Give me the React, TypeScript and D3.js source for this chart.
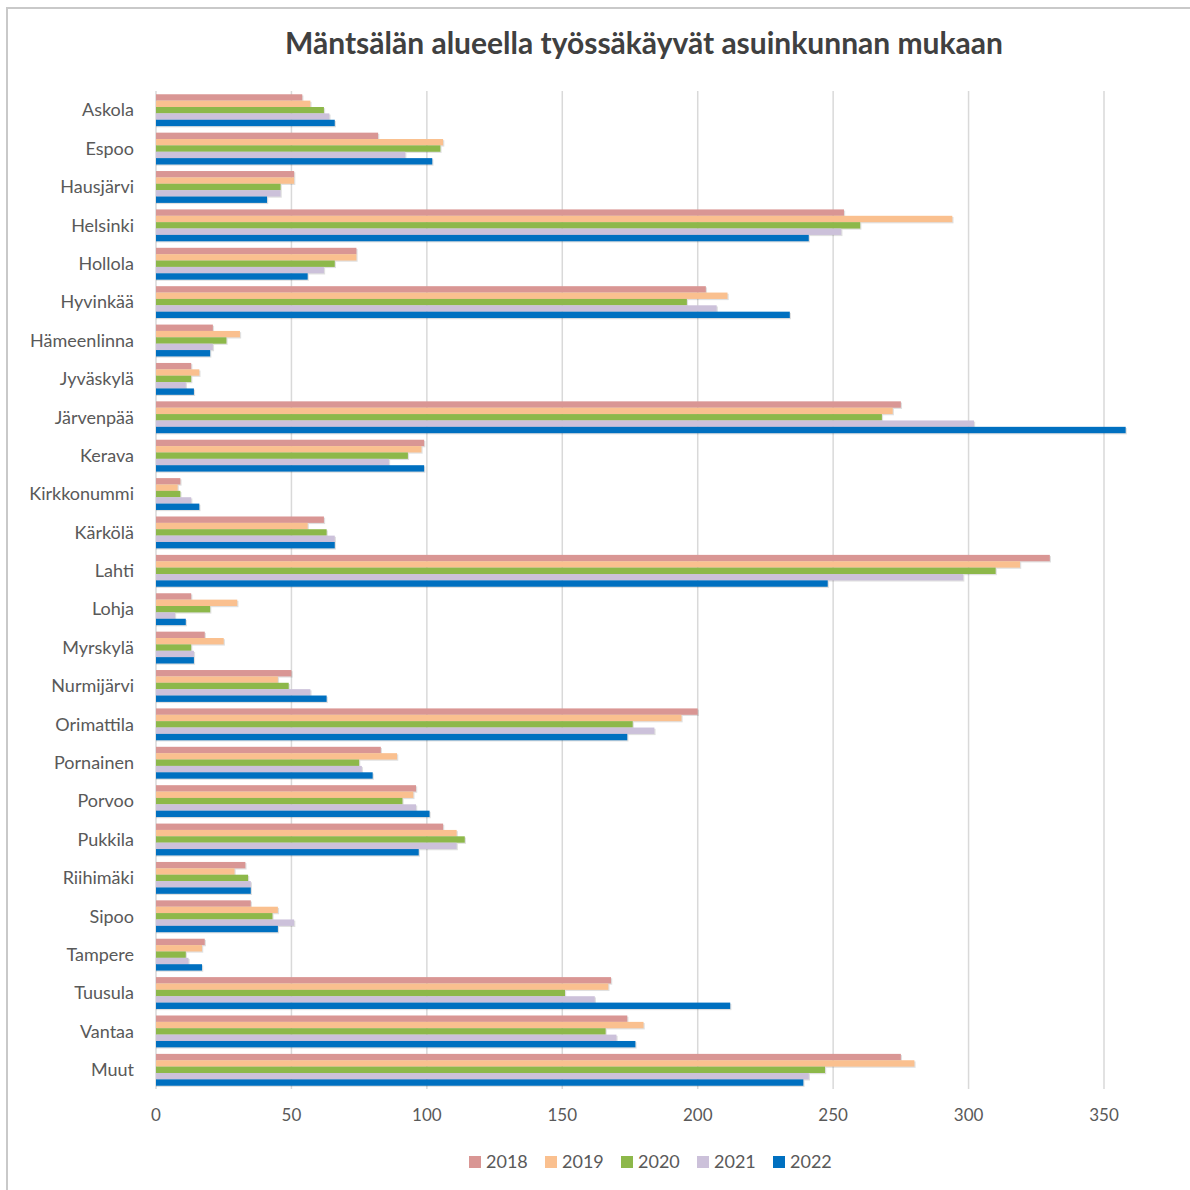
import { useEffect, useRef } from "react";
import * as d3 from "d3";

const title = "Mäntsälän alueella työssäkäyvät asuinkunnan mukaan";

const categories = [
  "Askola", "Espoo", "Hausjärvi", "Helsinki", "Hollola", "Hyvinkää", "Hämeenlinna",
  "Jyväskylä", "Järvenpää", "Kerava", "Kirkkonummi", "Kärkölä", "Lahti", "Lohja",
  "Myrskylä", "Nurmijärvi", "Orimattila", "Pornainen", "Porvoo", "Pukkila",
  "Riihimäki", "Sipoo", "Tampere", "Tuusula", "Vantaa", "Muut",
];

const years = ["2018", "2019", "2020", "2021", "2022"];
const colors = ["#D99694", "#FAC08F", "#8DB84A", "#CCC1DA", "#0070C0"];

const v2018 = [54, 82, 51, 254, 74, 203, 21, 13, 275, 99, 9, 62, 330, 13, 18, 50, 200, 83, 96, 106, 33, 35, 18, 168, 174, 275];
const v2019 = [57, 106, 51, 294, 74, 211, 31, 16, 272, 98, 8, 56, 319, 30, 25, 45, 194, 89, 95, 111, 29, 45, 17, 167, 180, 280];
const v2020 = [62, 105, 46, 260, 66, 196, 26, 13, 268, 93, 9, 63, 310, 20, 13, 49, 176, 75, 91, 114, 34, 43, 11, 151, 166, 247];
const v2021 = [64, 92, 46, 253, 62, 207, 21, 11, 302, 86, 13, 66, 298, 7, 14, 57, 184, 76, 96, 111, 35, 51, 12, 162, 170, 241];
const v2022 = [66, 102, 41, 241, 56, 234, 20, 14, 358, 99, 16, 66, 248, 11, 14, 63, 174, 80, 101, 97, 35, 45, 17, 212, 177, 239];

const series = [v2018, v2019, v2020, v2021, v2022];
const xTicks = [0, 50, 100, 150, 200, 250, 300, 350];

const App = () => {
  const svgRef = useRef<SVGSVGElement>(null);
  const width = 1190;
  const height = 1190;
  const margin = { top: 91, left: 156, bottom: 101, right: 86 };
  const font = "Lato, 'Open Sans', sans-serif";

  useEffect(() => {
    const svg = d3.select(svgRef.current);
    svg.selectAll("*").remove();

    // frame (top + left edges visible in the screenshot)
    svg.append("rect")
      .attr("x", 7).attr("y", 8)
      .attr("width", 1200).attr("height", 1200)
      .attr("fill", "#fff").attr("stroke", "#c9c9c9").attr("stroke-width", 2);

    const x = d3.scaleLinear().domain([0, 350]).range([margin.left, width - margin.right]);
    const y = d3.scaleBand().domain(categories).range([margin.top, height - margin.bottom]).paddingInner(0.17).paddingOuter(0.085);
    const yy = d3.scaleBand().domain(years).range([0, y.bandwidth()]);

    // gridlines
    svg.append("g")
      .selectAll("line")
      .data(xTicks)
      .join("line")
      .attr("x1", (d) => x(d)).attr("x2", (d) => x(d))
      .attr("y1", margin.top).attr("y2", height - margin.bottom)
      .attr("stroke", "#d9d9d9").attr("stroke-width", 1.5);

    // bars (light shadow like the excel export)
    series.forEach((vals, si) => {
      const g = svg.append("g");
      g.selectAll("rect.sh")
        .data(vals)
        .join("rect")
        .attr("class", "sh")
        .attr("x", x(0))
        .attr("y", (_, i) => (y(categories[i]) ?? 0) + (yy(years[si]) ?? 0) + 1.2)
        .attr("width", (d) => x(d) - x(0) + 1.2)
        .attr("height", yy.bandwidth())
        .attr("fill", "rgba(0,0,0,0.12)");
      g.selectAll("rect.bar")
        .data(vals)
        .join("rect")
        .attr("class", "bar")
        .attr("x", x(0))
        .attr("y", (_, i) => (y(categories[i]) ?? 0) + (yy(years[si]) ?? 0))
        .attr("width", (d) => x(d) - x(0))
        .attr("height", yy.bandwidth())
        .attr("fill", colors[si]);
    });

    // category labels
    svg.append("g")
      .selectAll("text")
      .data(categories)
      .join("text")
      .attr("x", 134)
      .attr("y", (d) => (y(d) ?? 0) + y.bandwidth() / 2)
      .attr("dy", "0.35em")
      .attr("text-anchor", "end")
      .attr("font-family", font)
      .attr("font-size", 18)
      .attr("fill", "#595959")
      .text((d) => d);

    // x axis tick labels
    svg.append("g")
      .selectAll("text")
      .data(xTicks)
      .join("text")
      .attr("x", (d) => x(d))
      .attr("y", 1121)
      .attr("text-anchor", "middle")
      .attr("font-family", font)
      .attr("font-size", 17)
      .attr("fill", "#595959")
      .text((d) => d);

    // title
    svg.append("text")
      .attr("x", 644).attr("y", 54)
      .attr("text-anchor", "middle")
      .attr("font-family", font)
      .attr("font-weight", "bold")
      .attr("font-size", 30)
      .attr("fill", "#404040")
      .text(title);

    // legend
    const lg = svg.append("g").selectAll("g").data(years).join("g")
      .attr("transform", (_, i) => `translate(${469 + i * 76},1162)`);
    lg.append("rect").attr("x", 0).attr("y", -6).attr("width", 12).attr("height", 12)
      .attr("fill", (_, i) => colors[i]);
    lg.append("text").attr("x", 17).attr("y", 0).attr("dy", "0.35em")
      .attr("font-family", font).attr("font-size", 18).attr("fill", "#595959")
      .text((d) => d);
  }, []);

  return (
    <svg ref={svgRef} width={width} height={height}
      style={{ position: "absolute", left: 0, top: 0, background: "#fff" }} />
  );
};

export default App;
